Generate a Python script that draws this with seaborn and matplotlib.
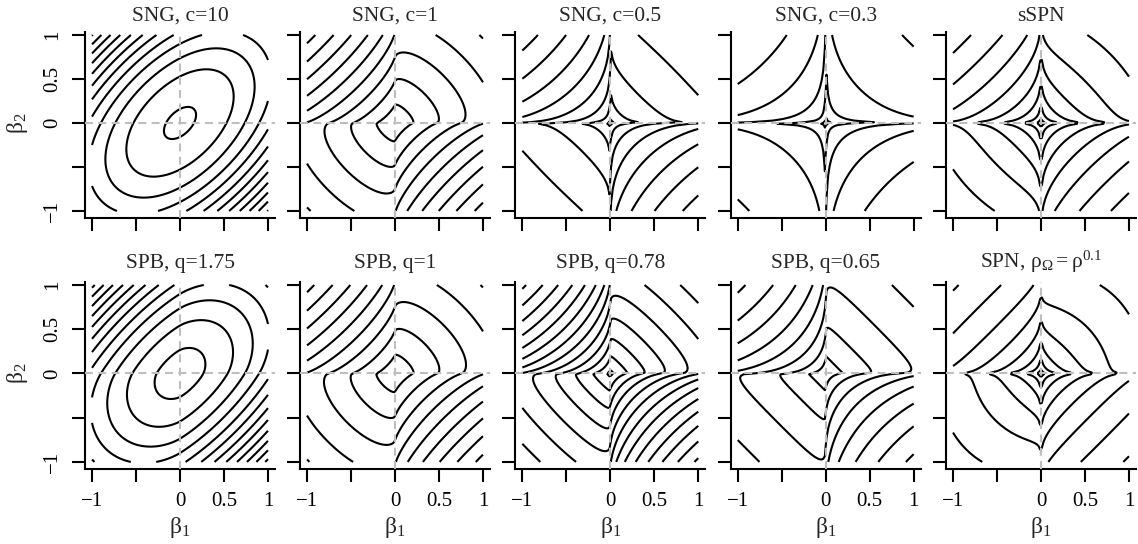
import numpy as np
import matplotlib
matplotlib.use("Agg")
import matplotlib.pyplot as plt
import seaborn as sns

# ---------------- chart parameters ----------------
RHO = 0.5                                   # target correlation of beta
TOP_TITLES = ["SNG, c=10", "SNG, c=1", "SNG, c=0.5", "SNG, c=0.3", "sSPN"]
BOTTOM_TITLES = ["SPB, q=1.75", "SPB, q=1", "SPB, q=0.78", "SPB, q=0.65",
                 r"SPN, $\mathregular{\rho_\Omega = \rho^{0.1}}$"]
SNG_C = [10, 1, 0.5, 0.3]
SPB_Q = [1.75, 1, 0.78, 0.65]
SNG_OMEGA_CORR = [None, None, 0.85, 0.8]    # None -> rho * E[s^2] / E[s]^2
SPB_OMEGA_CORR = [None, None, None, None]
SPN_OMEGA_POWER = [0.5, 0.1]                # sSPN: rho_Omega = rho^0.5, SPN: rho^0.1
N_LEVELS_TOP = [10, 10, 10, 10, 10]
N_LEVELS_BOTTOM = [10, 10, 10, 10, 10]
LEVEL_STEP_SCALE_TOP = [1.0, 1.0, 1.1, 1.7, 1.5]
LEVEL_STEP_SCALE_BOTTOM = [1.0, 1.0, 1.0, 1.0, 1.6]
LEVEL_PHASE_TOP = [0.1, 0.7, 0.3, 0.5, 0.5]       # first contour below the peak (in steps)
LEVEL_PHASE_BOTTOM = [0.4, 0.7, 0.2, 0.9, 0.5]
TICKS = [-1, -0.5, 0, 0.5, 1]
TICK_LABELS = ["\u22121", "", "0", "0.5", "1"]
X_LABEL = r"$\mathregular{\beta_1}$"
Y_LABEL = r"$\mathregular{\beta_2}$"
GRID_N = 110

# ---------------- numerical densities ----------------
b = np.linspace(-1, 1, GRID_N)
B1, B2 = np.meshgrid(b, b)
f1, f2 = B1.ravel(), B2.ravel()


def gauss_mix(a, W, r):
    """sum_ij W_ij N(beta; 0, diag(a_i,a_j) R diag(a_i,a_j))"""
    X2 = f2[None, :] / a[:, None]
    om = 1.0 - r * r
    out = np.zeros(f1.size)
    wmax = W.max()
    for i, ai in enumerate(a):
        if W[i].max() < 1e-15 * wmax:
            continue
        x1 = f1[None, :] / ai
        Q = (x1 * x1 - 2.0 * r * x1 * X2 + X2 * X2) / om
        out += (W[i] / a) @ np.exp(-0.5 * Q) / ai
    return out / (2 * np.pi * np.sqrt(om))


def sng_nodes(c, n=64):
    t = np.linspace(-25, 6, 6000)
    lw = c * t - c * np.exp(t)
    keep = t[lw > lw.max() - 28]
    t = np.linspace(keep.min(), keep.max(), n)
    lw = c * t - c * np.exp(t)
    w = np.exp(lw - lw.max())
    w /= w.sum()
    u = np.exp(t)
    s = np.sqrt(u / np.sum(w * u))
    return s, w


def spb_nodes(q, n=64):
    al = q / 2.0
    U = (np.arange(600) + 0.5) / 600 * np.pi
    A = (np.sin(al * U) / np.sin(U)) ** (1 / (1 - al)) * np.sin((1 - al) * U) / np.sin(al * U)
    lW = np.linspace(-30, 3.5, 900)
    logS = ((1 - al) / al) * (np.log(A)[:, None] - lW[None, :])
    logw = (lW - np.exp(lW))[None, :] - 0.5 * logS
    wt = np.exp(logw - logw.max()).ravel()
    wt /= wt.sum()
    lt = (-np.log(2.0) - logS).ravel()
    m = lt.max()
    lt = lt - (m + np.log(np.sum(wt * np.exp(lt - m))))  # E[tau] = 1
    sel = wt > 1e-14 * wt.max()
    edges = np.linspace(lt[sel].min(), lt[sel].max() + 1e-9, n + 1)
    H, _ = np.histogram(lt[sel], edges, weights=wt[sel])
    M, _ = np.histogram(lt[sel], edges, weights=wt[sel] * lt[sel])
    ok = H > 0
    ltn = M[ok] / H[ok]
    w = H[ok] / H[ok].sum()
    return np.exp(0.5 * ltn), w


def structured_scale_logdens(nodes, r_om=None):
    s, w = nodes
    if r_om is None:
        Es = np.sum(w * s)
        Es2 = np.sum(w * s * s)
        r_om = min(RHO * Es2 / Es ** 2, 0.995)
    p = gauss_mix(s, np.outer(w, w), r_om)
    return np.log(p).reshape(B1.shape)


def spn_logdens(power, n=64):
    r_om = RHO ** power
    r_psi = RHO / r_om
    t = np.linspace(-11, 2.5, n)
    a = np.exp(t)
    A1, A2 = np.meshgrid(a, a, indexing="ij")
    om = 1 - r_psi ** 2
    Wp = np.exp(-(A1 * A1 - 2 * r_psi * A1 * A2 + A2 * A2) / (2 * om)) * A1 * A2
    Wm = np.exp(-(A1 * A1 + 2 * r_psi * A1 * A2 + A2 * A2) / (2 * om)) * A1 * A2
    tot = Wp.sum() + Wm.sum()
    p = gauss_mix(a, Wp / tot, r_om) + gauss_mix(a, Wm / tot, -r_om)
    return np.log(p).reshape(B1.shape)


def pretty_unit(lo, hi, n):
    cell = (hi - lo) / n
    h, h5 = 1.5, 0.5 + 1.5 * 1.5
    base = 10 ** np.floor(np.log10(cell))
    unit = base
    if 2 * base - cell < h * (cell - unit):
        unit = 2 * base
        if 5 * base - cell < h5 * (cell - unit):
            unit = 5 * base
            if 10 * base - cell < h * (cell - unit):
                unit = 10 * base
    return unit


def contour_levels(L, n, scale, phase):
    Lf = L[np.isfinite(L)]
    lo, hi = Lf.min(), Lf.max()
    unit = pretty_unit(lo, hi, n) * scale
    lev = hi - (phase + np.arange(0, 400)) * unit
    return np.sort(lev[lev > lo])


top_fields = [structured_scale_logdens(sng_nodes(c), r) for c, r in zip(SNG_C, SNG_OMEGA_CORR)]
top_fields.append(spn_logdens(SPN_OMEGA_POWER[0]))
bottom_fields = [structured_scale_logdens(spb_nodes(q), r) for q, r in zip(SPB_Q, SPB_OMEGA_CORR)]
bottom_fields.append(spn_logdens(SPN_OMEGA_POWER[1]))

# ---------------- drawing ----------------
sns.set_theme(style="white")
plt.rcParams["font.family"] = ["Liberation Serif", "DejaVu Serif"]
plt.rcParams["mathtext.fontset"] = "stix"
plt.rcParams["axes.unicode_minus"] = True

FW, FH = 1138, 544
fig = plt.figure(figsize=(FW / 100, FH / 100), dpi=100)
fig.patch.set_facecolor("white")

zero_x = [180, 395, 610.3, 825.7, 1041]
rows = [dict(top=32, bottom=218, title_base=21, fields=top_fields, titles=TOP_TITLES,
             nlev=N_LEVELS_TOP, scale=LEVEL_STEP_SCALE_TOP, phase=LEVEL_PHASE_TOP),
        dict(top=282, bottom=469, title_base=268, fields=bottom_fields, titles=BOTTOM_TITLES,
             nlev=N_LEVELS_BOTTOM, scale=LEVEL_STEP_SCALE_BOTTOM, phase=LEVEL_PHASE_BOTTOM)]

for ri, row in enumerate(rows):
    for ci in range(5):
        zx = zero_x[ci]
        ax = fig.add_axes([(zx - 95) / FW, 1 - row["bottom"] / FH, 190 / FW,
                           (row["bottom"] - row["top"]) / FH])
        ax.set_facecolor("white")
        L = row["fields"][ci]
        lev = contour_levels(L, row["nlev"][ci], row["scale"][ci], row["phase"][ci])
        ax.contour(b, b, L, levels=lev, colors="black", linewidths=1.5,
                   linestyles="solid")
        ax.axhline(0, color="#BEBEBE", lw=1.5, ls=(0, (3.8, 2.6)), zorder=5)
        ax.axvline(0, color="#BEBEBE", lw=1.5, ls=(0, (3.8, 2.6)), zorder=5)
        ax.set_xlim(-1.08, 1.08)
        ax.set_ylim(-1.08, 1.034)
        for sp in ["top", "right"]:
            ax.spines[sp].set_visible(False)
        for sp in ["left", "bottom"]:
            ax.spines[sp].set_color("black")
            ax.spines[sp].set_linewidth(1.5)
        ax.set_xticks(TICKS)
        ax.set_yticks(TICKS)
        ax.tick_params(direction="out", length=9.5, width=1.5, colors="black",
                       labelsize=15, pad=7, left=True, bottom=True)
        if ri == 1:
            ax.set_xticklabels(TICK_LABELS)
        else:
            ax.set_xticklabels([""] * 5)
        if ci == 0:
            ax.set_yticklabels(TICK_LABELS, rotation=90, va="center")
        else:
            ax.set_yticklabels([""] * 5)
        ax.grid(False)
        fig.text(zx / FW, 1 - row["title_base"] / FH, row["titles"][ci],
                 ha="center", va="baseline", fontsize=15.5)
        if ri == 1:
            fig.text(zx / FW, 1 - 527 / FH, X_LABEL, ha="center", va="center",
                     fontsize=17)
    yc = (row["top"] + 3 + row["bottom"] - 7) / 2
    fig.text(18 / FW, 1 - yc / FH, Y_LABEL, ha="center", va="center",
             rotation=90, fontsize=17)

fig.savefig("out.png", dpi=100)
